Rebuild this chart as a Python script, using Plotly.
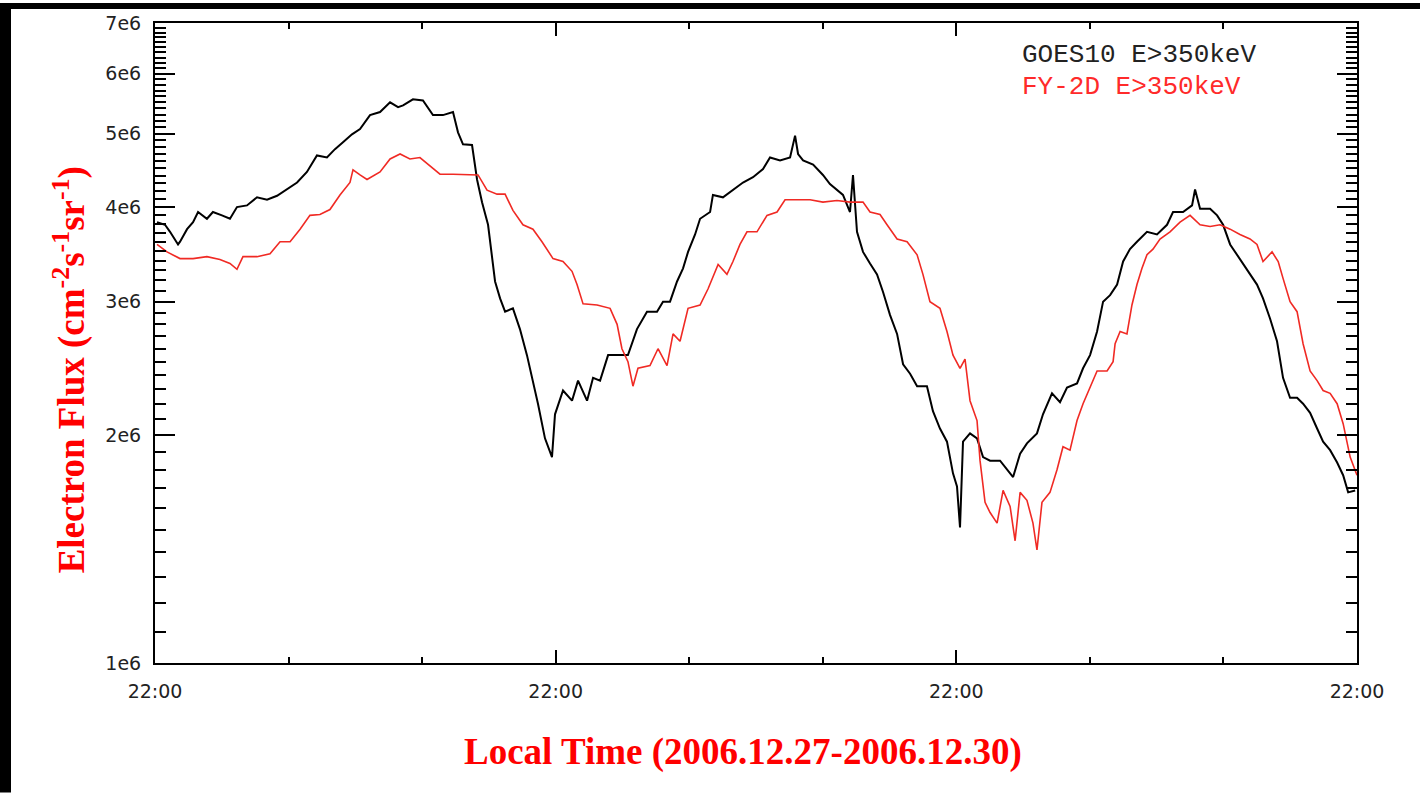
import numpy as np
import pandas as pd
import plotly.graph_objects as go

# Electron flux E>350 keV, hours after 2006-12-27 22:00 local time, flux in units of 1e6 cm^-2 s^-1 sr^-1
goes_hours = [
    0.12, 0.60, 0.90, 1.38, 1.50, 1.92, 2.28, 2.58, 3.11, 3.47, 4.01, 4.49, 4.91, 5.51, 6.11, 6.71,
    7.31, 7.91, 8.51, 9.10, 9.70, 10.30, 10.78, 11.26, 11.80, 12.28, 12.88, 13.48, 14.08, 14.56, 14.86,
    15.45, 16.05, 16.65, 17.25, 17.85, 18.15, 18.45, 18.99, 19.29, 19.59, 19.95, 20.19, 20.37, 20.67,
    20.97, 21.44, 21.86, 22.28, 22.64, 22.94, 23.36, 23.60, 23.78, 23.96, 24.44, 24.98, 25.34, 25.88,
    26.24, 26.66, 27.14, 27.85, 28.33, 28.87, 29.47, 30.07, 30.43, 30.85, 31.27, 31.63, 31.93, 32.35,
    32.65, 33.25, 33.42, 34.02, 34.62, 35.22, 35.82, 36.42, 36.84, 37.44, 38.04, 38.34, 38.52, 38.82,
    39.42, 40.01, 40.43, 40.85, 41.21, 41.63, 41.81, 42.05, 42.41, 42.83, 43.25, 43.61, 44.03, 44.45,
    44.81, 45.23, 45.65, 46.24, 46.60, 47.02, 47.44, 47.80, 48.04, 48.22, 48.40, 48.82, 49.24, 49.60,
    50.02, 50.62, 51.04, 51.40, 51.82, 52.23, 52.83, 53.19, 53.73, 54.21, 54.63, 55.23, 55.59, 56.01,
    56.43, 56.79, 57.21, 57.63, 57.99, 58.40, 58.82, 59.42, 60.02, 60.62, 60.98, 61.58, 62.12, 62.30,
    62.60, 63.20, 63.62, 63.98, 64.40, 64.81, 65.17, 65.59, 66.01, 66.37, 66.79, 67.21, 67.57, 67.99,
    68.41, 68.77, 69.19, 69.61, 69.97, 70.39, 70.81, 71.17, 71.47, 71.89,
]
goes_flux = [
    3.82, 3.79, 3.71, 3.57, 3.60, 3.74, 3.82, 3.94, 3.86, 3.94, 3.90, 3.86, 4.00, 4.02, 4.12, 4.09,
    4.14, 4.22, 4.31, 4.45, 4.68, 4.65, 4.77, 4.87, 4.99, 5.07, 5.29, 5.34, 5.50, 5.42, 5.45,
    5.55, 5.53, 5.29, 5.29, 5.34, 5.02, 4.84, 4.83, 4.35, 4.06, 3.79, 3.46, 3.19, 3.03,
    2.91, 2.94, 2.76, 2.55, 2.36, 2.20, 1.98, 1.91, 1.87, 2.13, 2.29, 2.22, 2.36, 2.22,
    2.38, 2.36, 2.55, 2.55, 2.55, 2.76, 2.91, 2.91, 3.00, 3.00, 3.19, 3.32, 3.49, 3.68,
    3.86, 3.94, 4.15, 4.12, 4.22, 4.31, 4.38, 4.49, 4.65, 4.61, 4.65, 4.97, 4.70, 4.61,
    4.55, 4.41, 4.29, 4.22, 4.15, 3.94, 4.41, 3.71, 3.49, 3.37, 3.26, 3.09, 2.88, 2.72,
    2.48, 2.41, 2.32, 2.32, 2.15, 2.04, 1.96, 1.78, 1.71, 1.51, 1.96, 2.01, 1.98, 1.87,
    1.85, 1.85, 1.80, 1.76, 1.89, 1.95, 2.01, 2.13, 2.27, 2.21, 2.31, 2.34, 2.45, 2.55,
    2.74, 3.00, 3.06, 3.16, 3.39, 3.52, 3.60, 3.71, 3.68, 3.79, 3.94, 3.94, 4.02, 4.22,
    3.98, 3.98, 3.90, 3.79, 3.57, 3.46, 3.36, 3.26, 3.16, 3.03, 2.85, 2.66, 2.38, 2.24,
    2.24, 2.20, 2.14, 2.04, 1.96, 1.91, 1.84, 1.77, 1.68, 1.69,
]

fy_hours = [
    0.12, 0.72, 1.50, 2.28, 3.11, 3.89, 4.49, 4.91, 5.27, 6.11, 6.89, 7.49, 8.09, 8.69, 9.28, 9.88,
    10.48, 11.08, 11.68, 11.86, 12.28, 12.70, 13.48, 14.08, 14.68, 15.27, 15.87, 16.47, 17.07, 17.85,
    18.69, 19.35, 19.89, 20.49, 20.97, 21.44, 22.04, 22.64, 23.18, 23.84, 24.44, 24.98, 25.28, 25.64,
    26.48, 27.26, 27.68, 27.97, 28.33, 28.63, 28.93, 29.65, 30.13, 30.67, 31.03, 31.45, 31.93, 32.65,
    33.13, 33.73, 34.26, 34.62, 35.04, 35.46, 36.06, 36.66, 37.26, 37.74, 38.46, 39.24, 40.01, 40.85,
    41.63, 42.41, 42.83, 43.43, 43.85, 44.45, 45.05, 45.65, 46.00, 46.42, 47.02, 47.44, 47.80, 48.22,
    48.52, 48.82, 49.24, 49.42, 49.72, 50.02, 50.44, 50.80, 51.22, 51.52, 51.82, 52.23, 52.59, 52.83,
    53.13, 53.61, 54.03, 54.39, 54.81, 55.23, 55.59, 56.01, 56.43, 57.03, 57.39, 57.51, 57.81, 58.22,
    58.52, 58.82, 59.12, 59.42, 59.78, 60.20, 60.80, 61.40, 62.00, 62.60, 63.20, 63.80, 64.40, 64.99,
    65.59, 66.01, 66.37, 66.91, 67.28, 67.57, 67.99, 68.41, 68.77, 69.19, 69.61, 69.97, 70.39, 70.81,
    71.17, 71.59, 72.00,
]
fy_flux = [
    3.57, 3.49, 3.42, 3.42, 3.44, 3.41, 3.37, 3.31, 3.44, 3.44, 3.47, 3.60, 3.60, 3.74, 3.90, 3.91,
    3.97, 4.15, 4.31, 4.48, 4.41, 4.35, 4.45, 4.63, 4.70, 4.63, 4.65, 4.54, 4.42, 4.42,
    4.42, 4.41, 4.21, 4.16, 4.16, 3.96, 3.79, 3.74, 3.60, 3.42, 3.39, 3.29, 3.16, 2.98,
    2.97, 2.94, 2.80, 2.60, 2.50, 2.32, 2.45, 2.47, 2.60, 2.47, 2.72, 2.66, 2.94, 2.97,
    3.12, 3.36, 3.26, 3.39, 3.57, 3.71, 3.71, 3.90, 3.94, 4.09, 4.09, 4.09, 4.06, 4.08,
    4.06, 4.06, 3.94, 3.91, 3.79, 3.63, 3.60, 3.46, 3.26, 3.00, 2.94, 2.74, 2.55, 2.45,
    2.52, 2.22, 2.09, 1.85, 1.63, 1.58, 1.53, 1.69, 1.61, 1.45, 1.68, 1.64, 1.53, 1.41,
    1.63, 1.68, 1.80, 1.93, 1.91, 2.09, 2.20, 2.31, 2.43, 2.43, 2.50, 2.64, 2.74, 2.72,
    2.97, 3.16, 3.32, 3.46, 3.52, 3.63, 3.71, 3.82, 3.90, 3.79, 3.77, 3.79, 3.74, 3.68,
    3.63, 3.57, 3.39, 3.49, 3.39, 3.22, 3.00, 2.91, 2.64, 2.43, 2.36, 2.29, 2.27, 2.20,
    2.07, 1.87, 1.77,
]

# Axis ticks
start = pd.Timestamp("2006-12-27 22:00")
end = pd.Timestamp("2006-12-30 22:00")
x_tickvals = pd.date_range(start, end, freq="24h")
x_ticktext = ["22:00", "22:00", "22:00", "22:00"]
y_tickvals = [1e6, 2e6, 3e6, 4e6, 5e6, 6e6, 7e6]
y_ticktext = ["1e6", "2e6", "3e6", "4e6", "5e6", "6e6", "7e6"]
y_minor = [v * 1e5 for v in range(11, 70) if v % 10 != 0]

goes_t = start + pd.to_timedelta(goes_hours, unit="h")
fy_t = start + pd.to_timedelta(fy_hours, unit="h")

fig = go.Figure()
fig.add_trace(go.Scatter(
    x=goes_t, y=np.array(goes_flux) * 1e6, mode="lines",
    line=dict(color="#000000", width=2), name="GOES10 E>350keV",
))
fig.add_trace(go.Scatter(
    x=fy_t, y=np.array(fy_flux) * 1e6, mode="lines",
    line=dict(color="#f02a24", width=1.6), name="FY-2D E>350keV",
))

W, H = 1420, 793
L, R, T, B = 155, 63, 20, 130
pw, ph = W - L - R, H - T - B


def px_x(x):
    return (x - L) / pw


def px_y(y):
    return (H - B - y) / ph


tick_font = dict(family="DejaVu Sans, Arial, sans-serif", size=19, color="#222222")

fig.update_layout(
    width=W, height=H,
    margin=dict(l=L, r=R, t=T, b=B),
    paper_bgcolor="white", plot_bgcolor="white",
    showlegend=False,
    xaxis=dict(
        type="date", range=[start, end],
        tickmode="array", tickvals=x_tickvals, ticktext=x_ticktext,
        ticks="inside", ticklen=13, tickwidth=1.5, tickcolor="#000",
        showline=True, linecolor="#000", linewidth=2, mirror="ticks",
        showgrid=False, zeroline=False,
        tickfont=tick_font, ticklabelstandoff=10,
        minor=dict(tick0=start, dtick=8 * 3600 * 1000, ticks="inside",
                   ticklen=6, tickwidth=1.5, tickcolor="#000", showgrid=False),
    ),
    yaxis=dict(
        type="log", range=[6, 6 + np.log10(7)],
        tickmode="array", tickvals=y_tickvals, ticktext=y_ticktext,
        ticks="inside", ticklen=20, tickwidth=1.5, tickcolor="#000",
        showline=True, linecolor="#000", linewidth=2, mirror="ticks",
        showgrid=False, zeroline=False,
        tickfont=tick_font, ticklabelstandoff=8,
        minor=dict(tickmode="array", tickvals=y_minor, ticks="inside",
                   ticklen=11, tickwidth=1.5, tickcolor="#000", showgrid=False),
    ),
)

title_font = dict(family="Liberation Serif, Times New Roman, serif", size=37, color="#ff0000")
legend_font = dict(family="Liberation Mono, Courier New, monospace", size=26)

fig.add_annotation(
    text="<b>Electron Flux (cm<sup>-2</sup>s<sup>-1</sup>sr<sup>-1</sup>)</b>",
    xref="paper", yref="paper", x=px_x(70), y=px_y(369), textangle=-90,
    showarrow=False, font=title_font, xanchor="center", yanchor="middle",
)
fig.add_annotation(
    text="<b>Local Time (2006.12.27-2006.12.30)</b>",
    xref="paper", yref="paper", x=px_x(743), y=px_y(752),
    showarrow=False, font=title_font, xanchor="center", yanchor="middle",
)
fig.add_annotation(
    text="GOES10 E&gt;350keV", xref="paper", yref="paper",
    x=px_x(1020), y=px_y(52), xanchor="left", yanchor="middle",
    showarrow=False, font=dict(legend_font, color="#222222"),
)
fig.add_annotation(
    text="FY-2D E&gt;350keV", xref="paper", yref="paper",
    x=px_x(1020), y=px_y(84), xanchor="left", yanchor="middle",
    showarrow=False, font=dict(legend_font, color="#ff2a2a"),
)

# Dark frame along the top and left edges of the image
fig.add_shape(type="rect", xref="paper", yref="paper", layer="above",
              x0=px_x(0), x1=px_x(W), y0=px_y(6), y1=px_y(0),
              fillcolor="#000", line=dict(width=0))
fig.add_shape(type="rect", xref="paper", yref="paper", layer="above",
              x0=px_x(0), x1=px_x(11), y0=px_y(H), y1=px_y(0),
              fillcolor="#000", line=dict(width=0))

fig.write_html("out.html")
